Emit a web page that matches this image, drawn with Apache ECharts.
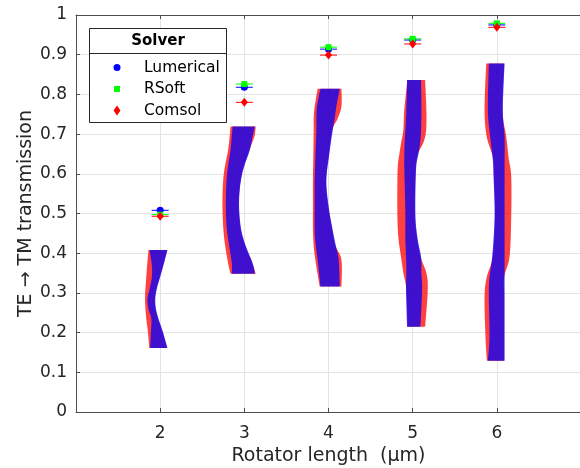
<!DOCTYPE html>
<html>
<head>
<meta charset="utf-8">
<script src="https://cdn.jsdelivr.net/npm/echarts@6/dist/echarts.min.js"></script>
<style>html,body{margin:0;padding:0;background:#fff;}#c{width:580px;height:468px;}</style>
</head>
<body>
<div id="c"></div>
<script>
// ---- data ----
const lengths = [2, 3, 4, 5, 6];
const xTicks = [1, 2, 3, 4, 5, 6, 7];
const yTicks = [0, 0.1, 0.2, 0.3, 0.4, 0.5, 0.6, 0.7, 0.8, 0.9, 1];

// peak transmission per solver
const lumerical = [0.508, 0.818, 0.914, 0.937, 0.975];
const rsoft     = [0.497, 0.826, 0.919, 0.940, 0.979];
const comsol    = [0.493, 0.780, 0.899, 0.927, 0.969];

// distribution outlines: [transmission, left offset, right offset] (offsets in rotator-length units)
const lumShape2 = [[0.408,-0.127,0.087],[0.37,-0.099,0.040],[0.34,-0.099,0.0],[0.31,-0.125,-0.040],[0.285,-0.151,-0.058],[0.26,-0.140,-0.050],[0.235,-0.105,-0.020],[0.20,-0.110,0.035],[0.161,-0.119,0.087]];
const comShape2 = [[0.408,-0.139,0.082],[0.37,-0.155,0.035],[0.34,-0.165,-0.005],[0.31,-0.175,-0.045],[0.285,-0.180,-0.063],[0.26,-0.175,-0.055],[0.235,-0.165,-0.025],[0.20,-0.145,0.030],[0.161,-0.130,0.082]];

const lumShape3 = [[0.719,-0.140,0.125],[0.694,-0.150,0.098],[0.66,-0.164,0.065],[0.60,-0.205,-0.026],[0.534,-0.220,-0.062],[0.47,-0.212,-0.045],[0.425,-0.185,0.006],[0.375,-0.149,0.098],[0.348,-0.149,0.125]];
const comShape3 = [[0.719,-0.164,0.135],[0.694,-0.175,0.120],[0.66,-0.193,0.060],[0.60,-0.244,-0.030],[0.534,-0.260,-0.066],[0.47,-0.252,-0.050],[0.425,-0.232,0.0],[0.375,-0.193,0.095],[0.348,-0.164,0.135]];

const lumShape4 = [[0.814,-0.096,0.133],[0.77,-0.137,0.094],[0.74,-0.144,0.074],[0.71,-0.144,0.050],[0.65,-0.155,0.010],[0.584,-0.164,-0.025],[0.52,-0.164,0.0],[0.458,-0.164,0.050],[0.42,-0.152,0.086],[0.383,-0.129,0.121],[0.316,-0.096,0.133]];
const comShape4 = [[0.814,-0.129,0.154],[0.77,-0.164,0.154],[0.74,-0.176,0.110],[0.71,-0.176,0.045],[0.65,-0.180,0.005],[0.584,-0.185,-0.030],[0.52,-0.185,-0.005],[0.458,-0.185,0.045],[0.42,-0.176,0.080],[0.383,-0.156,0.154],[0.316,-0.105,0.154]];

const lumShape5 = [[0.836,-0.067,0.100],[0.76,-0.075,0.104],[0.71,-0.087,0.100],[0.68,-0.095,0.090],[0.65,-0.099,0.068],[0.61,-0.099,0.040],[0.50,-0.087,0.032],[0.44,-0.087,0.056],[0.39,-0.079,0.100],[0.35,-0.075,0.104],[0.307,-0.079,0.112],[0.215,-0.067,0.092]];
const comShape5 = [[0.836,-0.062,0.148],[0.76,-0.100,0.163],[0.71,-0.111,0.160],[0.68,-0.135,0.130],[0.65,-0.158,0.063],[0.61,-0.179,0.035],[0.50,-0.182,0.027],[0.44,-0.170,0.050],[0.39,-0.138,0.095],[0.35,-0.110,0.163],[0.307,-0.075,0.179],[0.215,-0.062,0.148]];

const lumShape6 = [[0.878,-0.095,0.092],[0.761,-0.107,0.071],[0.693,-0.079,0.092],[0.64,-0.050,0.092],[0.593,-0.039,0.092],[0.492,-0.027,0.092],[0.391,-0.055,0.092],[0.34,-0.087,0.092],[0.29,-0.095,0.092],[0.19,-0.087,0.092],[0.129,-0.107,0.092]];
const comShape6 = [[0.878,-0.126,0.087],[0.761,-0.146,0.066],[0.693,-0.120,0.112],[0.64,-0.045,0.140],[0.593,-0.035,0.171],[0.492,-0.022,0.171],[0.391,-0.050,0.151],[0.34,-0.120,0.087],[0.29,-0.146,0.087],[0.19,-0.135,0.087],[0.129,-0.119,0.087]];

const lumShapes = [lumShape2, lumShape3, lumShape4, lumShape5, lumShape6];
const comShapes = [comShape2, comShape3, comShape4, comShape5, comShape6];

// ---- chart ----
const FONT = 'DejaVu Sans';
const TXT = '#262626';
const chart = echarts.init(document.getElementById('c'), null, {renderer: 'canvas'});

// Catmull-Rom smoothing of an outline edge (pixel space, rendering only)
function smoothEdge(p) {
  if (p.length < 3) return p.slice();
  const out = [];
  for (let i = 0; i < p.length - 1; i++) {
    const p0 = p[Math.max(i - 1, 0)], p1 = p[i], p2 = p[i + 1], p3 = p[Math.min(i + 2, p.length - 1)];
    const n = 8;
    for (let k = 0; k < n; k++) {
      const t = k / n, t2 = t * t, t3 = t2 * t;
      const f = (a, b, c, d) => 0.5 * ((2 * b) + (-a + c) * t + (2 * a - 5 * b + 4 * c - d) * t2 + (-a + 3 * b - 3 * c + d) * t3);
      out.push([f(p0[0], p1[0], p2[0], p3[0]), f(p0[1], p1[1], p2[1], p3[1])]);
    }
  }
  out.push(p[p.length - 1]);
  return out;
}

function shapeSeries(name, shapes, color, z) {
  return {
    type: 'custom', name: name, z: z, silent: true,
    data: lengths.map(v => [v, 0.5]),
    encode: {x: 0, y: 1},
    renderItem: function (params, api) {
      const x = api.value(0);
      const rows = shapes[params.dataIndex];
      const left = rows.map(r => api.coord([x + r[1], r[0]]));
      const right = rows.map(r => api.coord([x + r[2], r[0]]));
      const pts = smoothEdge(left).concat(smoothEdge(right).reverse());
      return {type: 'polygon', shape: {points: pts}, style: {fill: color, stroke: null}};
    }
  };
}
function capSeries(values, color, z) {
  return {
    type: 'custom', z: z, silent: true,
    data: lengths.map((v, i) => [v, values[i]]),
    encode: {x: 0, y: 1},
    renderItem: function (params, api) {
      const p = api.coord([api.value(0), api.value(1)]);
      return {type: 'line', shape: {x1: p[0] - 8.5, y1: p[1], x2: p[0] + 8.5, y2: p[1]}, style: {stroke: color, lineWidth: 1}};
    }
  };
}
function markSeries(name, values, color, symbol, size, z) {
  return {
    type: 'scatter', name: name, z: z, silent: true,
    symbol: symbol, symbolSize: size,
    itemStyle: {color: color, opacity: 1},
    data: lengths.map((v, i) => [v, values[i]])
  };
}

const legendItems = [
  {name: 'Lumerical', y: 67.5},
  {name: 'RSoft', y: 89},
  {name: 'Comsol', y: 110.5}
];

const option = {
  animation: false,
  backgroundColor: '#fff',
  grid: {left: 76, right: -1, top: 15, bottom: 56, containLabel: false, outerBoundsMode: 'none'},
  xAxis: [{
    type: 'value', min: xTicks[0], max: xTicks[xTicks.length - 1], interval: 1,
    name: 'Rotator length  (µm)', nameLocation: 'middle', nameGap: 35, nameMoveOverlap: false,
    nameTextStyle: {fontFamily: FONT, fontSize: 19, color: TXT},
    axisLine: {show: true, onZero: false, lineStyle: {color: '#4d4d4d', width: 1}},
    axisTick: {show: true, inside: true, length: 4, lineStyle: {color: '#4d4d4d'}},
    axisLabel: {fontFamily: FONT, fontSize: 17, color: TXT, margin: 13, showMinLabel: false, showMaxLabel: false},
    splitLine: {show: true, lineStyle: {color: '#e3e3e3', width: 1}}
  }, {
    type: 'value', position: 'top', min: xTicks[0], max: xTicks[xTicks.length - 1], interval: 1,
    axisLine: {show: true, onZero: false, lineStyle: {color: '#4d4d4d', width: 1}},
    axisTick: {show: true, inside: true, length: 4, lineStyle: {color: '#4d4d4d'}},
    axisLabel: {show: false}, splitLine: {show: false}
  }],
  yAxis: {
    type: 'value', min: yTicks[0], max: yTicks[yTicks.length - 1], interval: 0.1,
    name: 'TE → TM transmission', nameLocation: 'middle', nameGap: 40, nameMoveOverlap: false,
    nameTextStyle: {fontFamily: FONT, fontSize: 19, color: TXT},
    axisLine: {show: true, onZero: false, lineStyle: {color: '#4d4d4d', width: 1}},
    axisTick: {show: true, inside: true, length: 4, lineStyle: {color: '#4d4d4d'}},
    axisLabel: {fontFamily: FONT, fontSize: 17, color: TXT, margin: 9},
    splitLine: {show: true, lineStyle: {color: '#e3e3e3', width: 1}}
  },
  series: [
    shapeSeries('Comsol shape', comShapes, 'rgba(255,0,0,0.75)', 2),
    shapeSeries('Lumerical shape', lumShapes, 'rgba(0,0,255,0.75)', 3),
    capSeries(lumerical, '#0000ff', 4),
    markSeries('Lumerical', lumerical, '#0000ff', 'circle', 7, 5),
    capSeries(rsoft, '#00ff00', 6),
    markSeries('RSoft', rsoft, '#00ff00', 'rect', 6, 7),
    capSeries(comsol, '#ff0000', 8),
    markSeries('Comsol', comsol, '#ff0000', 'diamond', [7, 9], 9)
  ],
  graphic: [
    {type: 'rect', z: 100, shape: {x: 89.5, y: 28.5, width: 137, height: 94}, style: {fill: '#fff', stroke: '#262626', lineWidth: 1}},
    {type: 'line', z: 101, shape: {x1: 90, y1: 53.5, x2: 226, y2: 53.5}, style: {stroke: '#262626', lineWidth: 1}},
    {type: 'text', z: 101, style: {text: 'Solver', x: 158, y: 41.5, align: 'center', verticalAlign: 'middle', font: 'bold 15px "DejaVu Sans"', fill: '#000'}},
    {type: 'circle', z: 101, shape: {cx: 117, cy: legendItems[0].y, r: 3.5}, style: {fill: '#0000ff'}},
    {type: 'rect', z: 101, shape: {x: 114, y: legendItems[1].y - 3, width: 6, height: 6}, style: {fill: '#00ff00'}},
    {type: 'polygon', z: 101, shape: {points: [[117, legendItems[2].y - 5], [120.5, legendItems[2].y], [117, legendItems[2].y + 5], [113.5, legendItems[2].y]]}, style: {fill: '#ff0000'}},
    ...legendItems.map(it => ({type: 'text', z: 101, style: {text: it.name, x: 144, y: it.y, align: 'left', verticalAlign: 'middle', font: '15.5px "DejaVu Sans"', fill: '#000'}}))
  ]
};
chart.setOption(option);
</script>
</body>
</html>
